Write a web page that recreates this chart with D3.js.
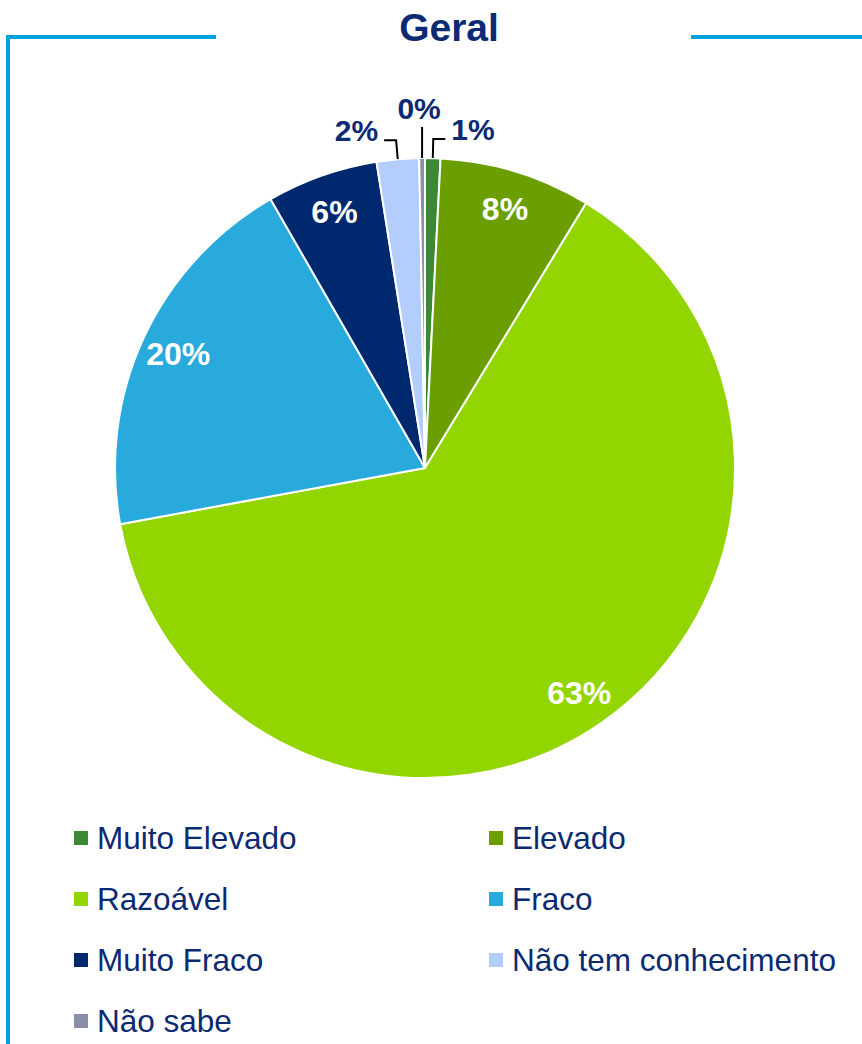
<!DOCTYPE html>
<html>
<head>
<meta charset="utf-8">
<script src="https://cdn.jsdelivr.net/npm/d3@7"></script>
<style>
  body { margin: 0; background: #fff; }
  svg { display: block; font-family: "Liberation Sans", Arial, sans-serif; }
</style>
</head>
<body>
<div id="chart"></div>
<script>
// data
var categories = ["Muito Elevado", "Elevado", "Razoável", "Fraco", "Muito Fraco", "Não tem conhecimento", "Não sabe"];
var values = [0.8, 7.9, 63.4, 19.6, 5.8, 2.2, 0.3];
var pctLabels = ["1%", "8%", "63%", "20%", "6%", "2%", "0%"];
var colors = ["#3b8a33", "#6b9e00", "#93d500", "#29aadc", "#00286f", "#b3cdfc", "#8a8ea8"];

var width = 862, height = 1044;
var cx = 425, cy = 468, r = 310;
var navy = "#0b2a72";

var svg = d3.select("#chart").append("svg")
  .attr("width", width)
  .attr("height", height);

// frame
var frameColor = "#00a3de";
svg.append("path")
  .attr("d", "M216,37 L8,37 L8," + height)
  .attr("fill", "none")
  .attr("stroke", frameColor)
  .attr("stroke-width", 4);
svg.append("line")
  .attr("x1", 691).attr("x2", width)
  .attr("y1", 37).attr("y2", 37)
  .attr("stroke", frameColor)
  .attr("stroke-width", 4);

svg.append("text")
  .attr("x", 449).attr("y", 41)
  .attr("text-anchor", "middle")
  .attr("fill", navy)
  .attr("font-weight", "bold")
  .attr("font-size", 39)
  .text("Geral");

var data = categories.map(function (c, i) {
  return { name: c, value: values[i], label: pctLabels[i], color: colors[i] };
});

var pie = d3.pie().sort(null).value(function (d) { return d.value; });
var arcs = pie(data);

var arc = d3.arc().innerRadius(0).outerRadius(r);

var g = svg.append("g").attr("transform", "translate(" + cx + "," + cy + ")");

g.selectAll("path.slice")
  .data(arcs)
  .enter().append("path")
  .attr("class", "slice")
  .attr("d", arc)
  .attr("fill", function (d) { return d.data.color; })
  .attr("stroke", "#fff")
  .attr("stroke-width", 2)
  .attr("stroke-linejoin", "round");

function pt(angle, rad) {
  return [Math.sin(angle) * rad, -Math.cos(angle) * rad];
}

// inside labels
var labelR = 272;
g.selectAll("text.inside")
  .data(arcs.filter(function (d) { return d.data.value >= 3; }))
  .enter().append("text")
  .attr("class", "inside")
  .attr("x", function (d) { return pt((d.startAngle + d.endAngle) / 2, labelR)[0]; })
  .attr("y", function (d) { return pt((d.startAngle + d.endAngle) / 2, labelR)[1]; })
  .attr("dy", "0.36em")
  .attr("text-anchor", "middle")
  .attr("fill", "#fff")
  .attr("font-weight", "bold")
  .attr("font-size", 32)
  .text(function (d) { return d.data.label; });

// outside labels with leader lines
var small = arcs.filter(function (d) { return d.data.value < 3; });
small.forEach(function (d) {
  var a = (d.startAngle + d.endAngle) / 2;
  var s = pt(a, r);
  var side = Math.abs(Math.sin(a)) < 0.02 ? 0 : (Math.sin(a) > 0 ? 1 : -1);
  var pts, tx, ty, anchor;
  if (side === 0) {
    var e = [s[0], s[1] - 31];
    pts = [s, e];
    tx = e[0] - 3; ty = e[1] - 8; anchor = "middle";
  } else {
    var e1 = pt(a, r + 19);
    var e2 = [e1[0] + side * 12, e1[1]];
    pts = [s, e1, e2];
    tx = e2[0] + side * 6; ty = e2[1] + 1; anchor = side > 0 ? "start" : "end";
  }
  g.append("path")
    .attr("d", d3.line()(pts))
    .attr("fill", "none")
    .attr("stroke", "#000")
    .attr("stroke-width", 2);
  g.append("text")
    .attr("x", tx).attr("y", ty)
    .attr("text-anchor", anchor)
    .attr("fill", navy)
    .attr("font-weight", "bold")
    .attr("font-size", 30)
    .text(d.data.label);
});

// legend
var legend = svg.append("g");
var colX = [74, 489], rowY0 = 838, rowStep = 61;
var items = legend.selectAll("g.item")
  .data(data)
  .enter().append("g")
  .attr("class", "item")
  .attr("transform", function (d, i) {
    return "translate(" + colX[i % 2] + "," + (rowY0 + Math.floor(i / 2) * rowStep) + ")";
  });
items.append("rect")
  .attr("x", 0).attr("y", -7)
  .attr("width", 14).attr("height", 14)
  .attr("fill", function (d) { return d.color; });
items.append("text")
  .attr("x", 23).attr("y", 0)
  .attr("dy", "0.36em")
  .attr("fill", navy)
  .attr("font-size", 31.5)
  .text(function (d) { return d.name; });
</script>
</body>
</html>
